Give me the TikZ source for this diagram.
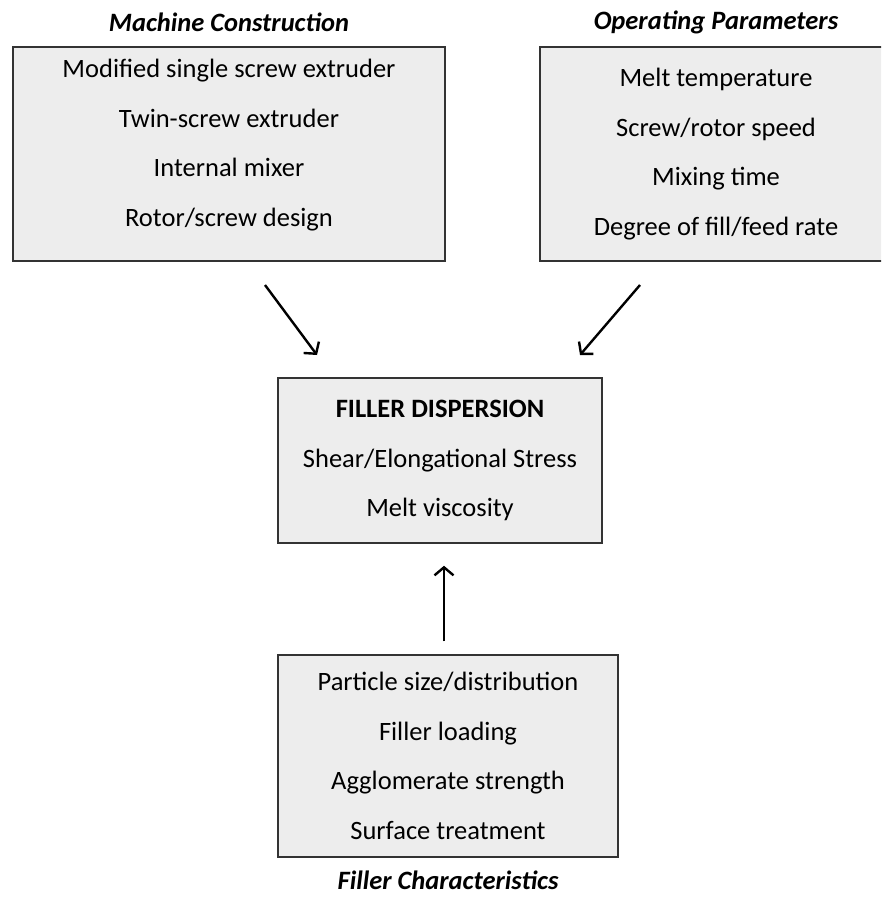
\documentclass[tikz,border=0pt]{standalone}
\usepackage{fontspec}
\setmainfont{Carlito}
\usetikzlibrary{arrows.meta, positioning}

\begin{document}
\begin{tikzpicture}[x=1pt, y=-1pt,
    factorbox/.style={draw=black!80, line width=1.5pt, fill=black!7, align=center,
      font=\fontsize{26.5}{49.5}\selectfont, inner sep=0pt},
    itemlist/.style={align=center, font=\fontsize{26.5}{49.5}\selectfont, inner sep=0pt},
    heading/.style={font=\fontsize{26.5}{30}\selectfont\bfseries\itshape, inner sep=0pt},
    arr/.style={-{Straight Barb[length=8pt, width=19pt]}, line width=2.4pt}]
   \clip (0,0) rectangle (881,899);
   \fill[white] (0,0) rectangle (881,899);

   \node[factorbox, minimum width=432, minimum height=214] (MC) at (229, 154) {};
   \node[itemlist] (MClist) at (229, 145)
      {Modified single screw extruder\\ Twin-screw extruder\\ Internal mixer\\ Rotor/screw design};
   \node[factorbox, minimum width=352, minimum height=214] (OP) at (716, 154)
      {Melt temperature\\ Screw/rotor speed\\ Mixing time\\ Degree of fill/feed rate};
   \node[factorbox, minimum width=324, minimum height=165] (FD) at (440, 460.5)
      {\textbf{FILLER DISPERSION}\\ Shear/Elongational Stress\\ Melt viscosity};
   \node[factorbox, minimum width=340, minimum height=202] (FC) at (448, 756)
      {Particle size/distribution\\ Filler loading\\ Agglomerate strength\\ Surface treatment};

   \node[heading] (MCt) at (229, 22) {Machine Construction};
   \node[heading] (OPt) at (716, 22) {Operating Parameters};
   \node[heading] (FCt) at (448, 880) {Filler Characteristics};

   \coordinate (MCout) at (265, 285);
   \coordinate (OPout) at (640, 285);
   \coordinate (FDin1) at (317, 355);
   \coordinate (FDin2) at (580, 355);

   \draw[arr] (MCout) -- (FDin1);
   \draw[arr] (OPout) -- (FDin2);
   \draw[arr] ([yshift=13]FC.north -| 444,0) -- ([yshift=-22]FD.south -| 444,0);
\end{tikzpicture}
\end{document}
